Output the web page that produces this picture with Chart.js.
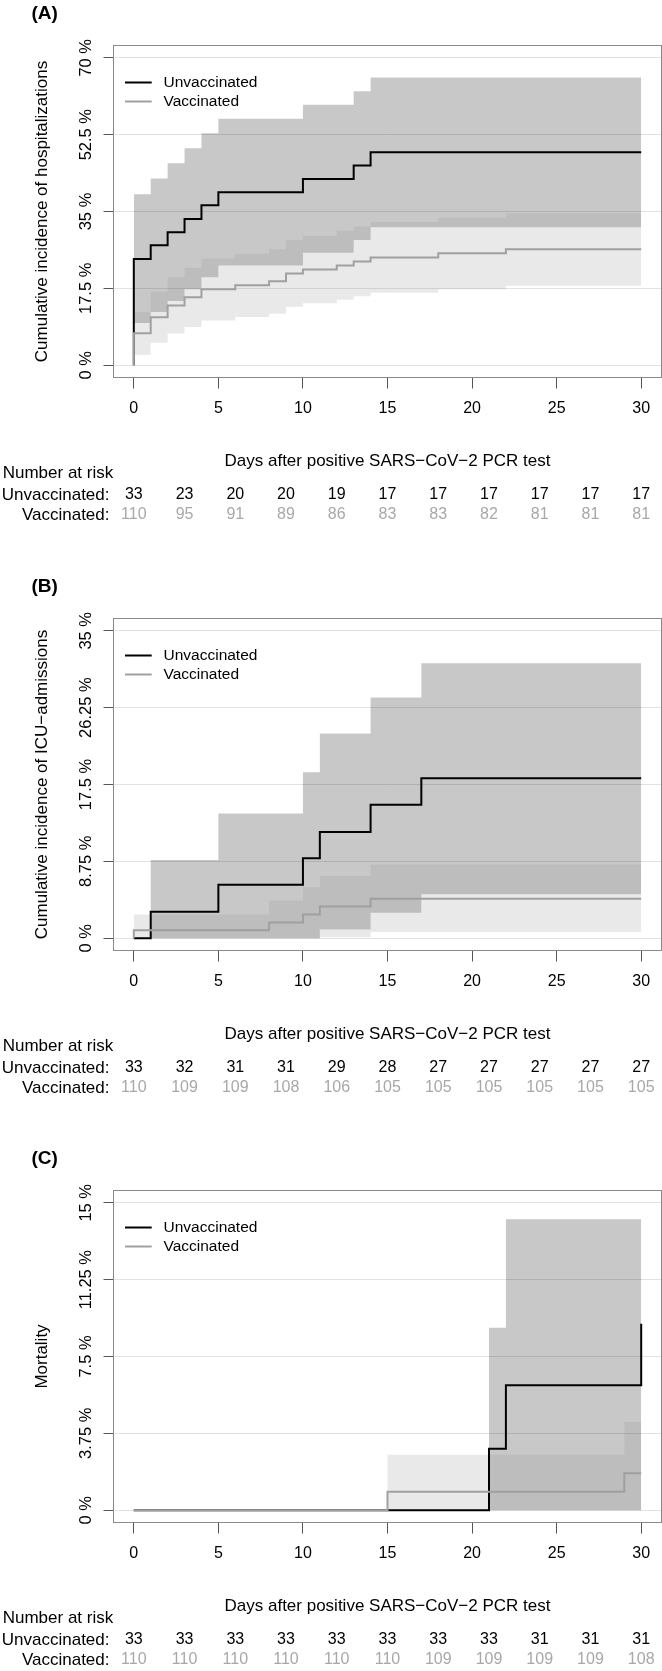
<!DOCTYPE html>
<html>
<head>
<meta charset="utf-8">
<script src="https://cdn.jsdelivr.net/npm/chart.js@4.4.0/dist/chart.umd.min.js"></script>
<style>
  body { margin: 0; background: #fff; width: 662px; height: 1671px; position: relative; overflow: hidden; }
  canvas { position: absolute; left: 0; }
</style>
</head>
<body>
<canvas id="chartA" width="662" height="573" style="top:0px"></canvas>
<canvas id="chartB" width="662" height="572" style="top:573px"></canvas>
<canvas id="chartC" width="662" height="526" style="top:1145px"></canvas>
<script>
// x axis and risk table
const dayTicks = [0, 5, 10, 15, 20, 25, 30];
const riskDays = [0, 3, 6, 9, 12, 15, 18, 21, 24, 27, 30];

// (A) hospitalizations, % (step starts at each day)
const hospUnvaxDays = [0, 0, 1, 2, 3, 4, 5, 10, 13, 14, 30];
const hospUnvax     = [0, 24.2, 27.3, 30.3, 33.3, 36.4, 39.4, 42.4, 45.5, 48.5, 48.5];
const hospUnvaxLow  = [0, 9.6, 12.1, 14.6, 17.3, 20.0, 22.7, 25.6, 28.5, 31.4, 31.4];
const hospUnvaxUp   = [0, 38.9, 42.5, 46.0, 49.4, 52.8, 56.1, 59.3, 62.4, 65.5, 65.5];
const hospVaxDays = [0, 0, 1, 2, 3, 4, 6, 8, 9, 10, 12, 13, 14, 18, 22, 30];
const hospVax     = [0, 7.3, 10.9, 13.6, 15.5, 17.3, 18.2, 19.1, 20.9, 21.8, 22.7, 23.6, 24.5, 25.5, 26.4, 26.4];
const hospVaxLow  = [0, 2.4, 5.1, 7.2, 8.7, 10.2, 11.0, 11.7, 13.3, 14.1, 14.9, 15.7, 16.5, 17.3, 18.1, 18.1];
const hospVaxUp   = [0, 12.1, 16.7, 20.0, 22.2, 24.3, 25.4, 26.4, 28.5, 29.5, 30.6, 31.6, 32.6, 33.6, 34.6, 34.6];
const hospTicks = [0, 17.5, 35, 52.5, 70];
const hospRiskUnvax = [33, 23, 20, 20, 19, 17, 17, 17, 17, 17, 17];
const hospRiskVax = [110, 95, 91, 89, 86, 83, 83, 82, 81, 81, 81];

// (B) ICU admissions
const icuUnvaxDays = [0, 1, 5, 10, 11, 14, 17, 30];
const icuUnvax     = [0, 3.0, 6.1, 9.1, 12.1, 15.2, 18.2, 18.2];
const icuUnvaxLow  = [0, 0, 0, 0, 1.0, 2.9, 5.0, 5.0];
const icuUnvaxUp   = [0, 8.9, 14.2, 18.9, 23.3, 27.4, 31.3, 31.3];
const icuVaxDays = [0, 0, 8, 10, 11, 14, 30];
const icuVax     = [0, 0.9, 1.8, 2.7, 3.6, 4.5, 4.5];
const icuVaxLow  = [0, 0, 0, 0, 0.1, 0.7, 0.7];
const icuVaxUp   = [0, 2.7, 4.3, 5.8, 7.1, 8.4, 8.4];
const icuTicks = [0, 8.75, 17.5, 26.25, 35];
const icuRiskUnvax = [33, 32, 31, 31, 29, 28, 27, 27, 27, 27, 27];
const icuRiskVax = [110, 109, 109, 108, 106, 105, 105, 105, 105, 105, 105];

// (C) mortality
const mortUnvaxDays = [0, 21, 22, 30];
const mortUnvax     = [0, 3.0, 6.1, 9.1];
const mortUnvaxLow  = [0, 0, 0, 0];
const mortUnvaxUp   = [0, 8.9, 14.2, 18.9];
const mortVaxDays = [0, 15, 29, 30];
const mortVax     = [0, 0.9, 1.8, 1.8];
const mortVaxLow  = [0, 0, 0, 0];
const mortVaxUp   = [0, 2.7, 4.3, 4.3];
const mortTicks = [0, 3.75, 7.5, 11.25, 15];
const mortRiskUnvax = [33, 33, 33, 33, 33, 33, 33, 33, 31, 31, 31];
const mortRiskVax = [110, 110, 110, 110, 110, 110, 109, 109, 109, 109, 108];

const FONT = '"Liberation Sans", Arial, Helvetica, sans-serif';
const GRAY_LINE = '#a0a0a0';
Chart.defaults.font.family = FONT;

function pts(days, vals) {
    return days.map((d, i) => ({ x: d, y: vals[i] }));
}

// draws box, rotated y labels, titles, legend and the number-at-risk table
const decor = {
    id: 'decor',
    afterDraw(chart) {
        const o = chart.options.plugins.decor;
        const { ctx, chartArea: a, scales: { x, y } } = chart;
        ctx.save();
        ctx.strokeStyle = '#8a8a8a';
        ctx.lineWidth = 1;
        ctx.strokeRect(a.left, a.top, a.right - a.left, a.bottom - a.top);

        ctx.fillStyle = '#000';
        ctx.font = '16.5px ' + FONT;
        ctx.textAlign = 'center';
        ctx.textBaseline = 'alphabetic';
        o.ticks.forEach(v => {
            ctx.save();
            ctx.translate(90.5, y.getPixelForValue(v));
            ctx.rotate(-Math.PI / 2);
            ctx.fillText(v + ' %', 0, 0);
            ctx.restore();
        });

        ctx.font = '17px ' + FONT;
        ctx.save();
        ctx.translate(46.7, (a.top + a.bottom) / 2);
        ctx.rotate(-Math.PI / 2);
        ctx.fillText(o.yTitle, 0, 0);
        ctx.restore();

        ctx.font = 'bold 19px ' + FONT;
        ctx.textAlign = 'left';
        ctx.textBaseline = 'middle';
        ctx.fillText(o.label, 31.5, 13.5);

        // legend
        const lx = a.left + 11.5;
        ctx.lineWidth = 2;
        [['Unvaccinated', '#000', 82.5], ['Vaccinated', GRAY_LINE, 101.5]].forEach(([txt, col, ly]) => {
            ctx.strokeStyle = col;
            ctx.beginPath();
            ctx.moveTo(lx, ly);
            ctx.lineTo(lx + 26.7, ly);
            ctx.stroke();
            ctx.fillStyle = '#000';
            ctx.font = '15.5px ' + FONT;
            ctx.fillText(txt, lx + 38.5, ly);
        });

        ctx.font = '17px ' + FONT;
        ctx.textAlign = 'center';
        ctx.fillText('Days after positive SARS\u2212CoV\u22122 PCR test', (a.left + a.right) / 2, 461);
        ctx.textAlign = 'left';
        ctx.fillText('Number at risk', 2.7, 473.5);
        ctx.textAlign = 'right';
        ctx.fillText('Unvaccinated:', 109.5, 495);
        ctx.fillText('Vaccinated:', 109.5, 515);

        ctx.font = '16px ' + FONT;
        ctx.textAlign = 'center';
        riskDays.forEach((d, i) => {
            const px = x.getPixelForValue(d);
            ctx.fillStyle = '#000';
            ctx.fillText(String(o.riskUnvax[i]), px, 495);
            ctx.fillStyle = '#a8a8a8';
            ctx.fillText(String(o.riskVax[i]), px, 515);
        });
        ctx.restore();
    }
};

function makePanel(id, p) {
    const cv = document.getElementById(id);
    const top = p.ticks[p.ticks.length - 1];
    new Chart(cv.getContext('2d'), {
        type: 'line',
        data: {
            datasets: [
                { data: pts(p.vaxDays, p.vax), borderColor: GRAY_LINE, borderWidth: 2, stepped: 'before', pointRadius: 0, fill: false, order: 1 },
                { data: pts(p.unvaxDays, p.unvax), borderColor: '#000', borderWidth: 2, stepped: 'before', pointRadius: 0, fill: false, order: 2 },
                { data: pts(p.vaxDays, p.vaxUp), borderWidth: 0, stepped: 'before', pointRadius: 0, fill: 3, backgroundColor: 'rgba(140,140,140,0.19)', order: 3 },
                { data: pts(p.vaxDays, p.vaxLow), borderWidth: 0, stepped: 'before', pointRadius: 0, fill: false, order: 4 },
                { data: pts(p.unvaxDays, p.unvaxUp), borderWidth: 0, stepped: 'before', pointRadius: 0, fill: 5, backgroundColor: 'rgba(0,0,0,0.215)', order: 5 },
                { data: pts(p.unvaxDays, p.unvaxLow), borderWidth: 0, stepped: 'before', pointRadius: 0, fill: false, order: 6 }
            ]
        },
        options: {
            responsive: false,
            animation: false,
            layout: { padding: { left: 103.5, right: 0.5, top: 45.5, bottom: cv.height - 387.5 - 40.2 } },
            plugins: {
                legend: { display: false },
                tooltip: { enabled: false },
                decor: { ticks: p.ticks, yTitle: p.yTitle, label: p.label, riskUnvax: p.riskUnvax, riskVax: p.riskVax }
            },
            scales: {
                x: {
                    type: 'linear', min: -1.2, max: 31.2,
                    afterBuildTicks: s => { s.ticks = dayTicks.map(v => ({ value: v })); },
                    grid: { drawOnChartArea: false, tickLength: 11, tickColor: '#555' },
                    border: { display: false },
                    ticks: { padding: 10, color: '#000', autoSkip: false, maxRotation: 0, font: { size: 16 } }
                },
                y: {
                    type: 'linear', min: -0.04 * top, max: 1.04 * top,
                    afterBuildTicks: s => { s.ticks = p.ticks.map(v => ({ value: v })); },
                    grid: { color: '#e2e2e2', tickColor: '#555', tickLength: 10 },
                    border: { display: false },
                    ticks: { display: false }
                }
            }
        },
        plugins: [decor]
    });
}

makePanel('chartA', {
    label: '(A)', yTitle: 'Cumulative incidence of hospitalizations', ticks: hospTicks,
    unvaxDays: hospUnvaxDays, unvax: hospUnvax, unvaxLow: hospUnvaxLow, unvaxUp: hospUnvaxUp,
    vaxDays: hospVaxDays, vax: hospVax, vaxLow: hospVaxLow, vaxUp: hospVaxUp,
    riskUnvax: hospRiskUnvax, riskVax: hospRiskVax
});
makePanel('chartB', {
    label: '(B)', yTitle: 'Cumulative incidence of ICU\u2212admissions', ticks: icuTicks,
    unvaxDays: icuUnvaxDays, unvax: icuUnvax, unvaxLow: icuUnvaxLow, unvaxUp: icuUnvaxUp,
    vaxDays: icuVaxDays, vax: icuVax, vaxLow: icuVaxLow, vaxUp: icuVaxUp,
    riskUnvax: icuRiskUnvax, riskVax: icuRiskVax
});
makePanel('chartC', {
    label: '(C)', yTitle: 'Mortality', ticks: mortTicks,
    unvaxDays: mortUnvaxDays, unvax: mortUnvax, unvaxLow: mortUnvaxLow, unvaxUp: mortUnvaxUp,
    vaxDays: mortVaxDays, vax: mortVax, vaxLow: mortVaxLow, vaxUp: mortVaxUp,
    riskUnvax: mortRiskUnvax, riskVax: mortRiskVax
});
</script>
</body>
</html>
